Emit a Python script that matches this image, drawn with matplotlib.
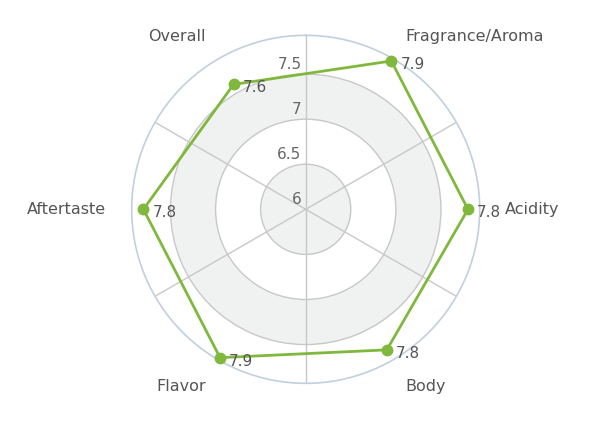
import numpy as np
import matplotlib.pyplot as plt

# categories and scores
categories = ['Fragrance/Aroma', 'Acidity', 'Body', 'Flavor', 'Aftertaste', 'Overall']
scores = [7.9, 7.8, 7.8, 7.9, 7.8, 7.6]
score_labels = ['7.9', '7.8', '7.8', '7.9', '7.8', '7.6']
rticks = [6, 6.5, 7, 7.5]
rtick_labels = ['6', '6.5', '7', '7.5']

rmin, rmax = 6, 7.93

fig = plt.figure(figsize=(6, 4.21), dpi=100)
ax = fig.add_axes([0.2195, 0.0895, 0.58, 0.8266], projection='polar')
ax.set_theta_zero_location('N')
ax.set_theta_direction(-1)
ax.set_ylim(rmin, rmax)

# alternating bands
full = np.linspace(0, 2 * np.pi, 400)
for i in range(0, len(rticks) - 1, 2):
    ax.fill_between(full, rticks[i], rticks[i + 1], color='#f0f1f1', zorder=0, lw=0)

# spokes between the categories
ax.set_xticks(np.deg2rad(np.arange(0, 360, 60)))
ax.set_xticklabels([])
ax.set_yticks(rticks[1:])
ax.set_yticklabels([])
ax.grid(True, color='#c8c8c8', lw=1)
ax.spines['polar'].set_color('#c0d0e0')
ax.spines['polar'].set_linewidth(1.2)

# radial value labels
for v, lab in zip(rticks, rtick_labels):
    ax.annotate(lab, (0, v), xytext=(-3, 1.5), textcoords='offset points',
                ha='right', va='bottom', fontsize=11, color='#666666')

# series
angles = np.deg2rad(30 + 60 * np.arange(len(categories)))
ang_c = np.append(angles, angles[0])
sc_c = np.append(scores, scores[0])
ax.plot(ang_c, sc_c, color='#80b83e', lw=2, zorder=5, clip_on=False)
ax.plot(angles, scores, 'o', color='#80b83e', ms=7.5, zorder=6, clip_on=False)

for a, v, lab in zip(angles, scores, score_labels):
    ax.annotate(lab, (a, v), xytext=(6.5, -2.5), textcoords='offset points',
                ha='left', va='center', fontsize=11, color='#555555', zorder=7)

# category labels
r_lab = rmin + 200 / 90.4
for a, name in zip(angles, categories):
    ha = 'left' if np.sin(a) > 0 else 'right'
    dy = -3.5 if np.cos(a) < -0.1 else 0
    ax.annotate(name, (a, r_lab), xytext=(0, dy), textcoords='offset points',
                ha=ha, va='center', fontsize=11.5, color='#555555',
                annotation_clip=False)

fig.savefig('out.png', dpi=100)
